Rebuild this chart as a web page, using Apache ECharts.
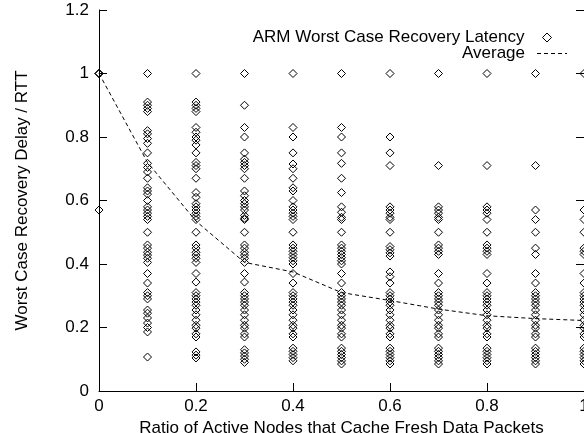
<!DOCTYPE html>
<html>
<head>
<meta charset="utf-8">
<script src="https://cdn.jsdelivr.net/npm/echarts@6/dist/echarts.min.js"></script>
<style>
  html, body { margin: 0; padding: 0; background: #fff; }
  #chart { width: 584px; height: 433px; }
</style>
</head>
<body>
<div id="chart"></div>
<script>
// x positions of the columns
const ratios = [0, 0.1, 0.2, 0.3, 0.4, 0.5, 0.6, 0.7, 0.8, 0.9, 1.0];

// worst case recovery latency per column
const col00 = [1, 1, 1, 0.57];
const col01 = [1, 0.91, 0.90, 0.89, 0.88, 0.82, 0.81, 0.795, 0.78, 0.75, 0.717, 0.704, 0.69, 0.67,
  0.64, 0.63, 0.62, 0.60, 0.58, 0.57, 0.56, 0.55, 0.54, 0.50, 0.46, 0.45, 0.437, 0.428, 0.418, 0.405,
  0.37, 0.34, 0.31, 0.30, 0.29, 0.255, 0.245, 0.23, 0.214, 0.20, 0.186, 0.107];
const col02 = [1, 0.91, 0.90, 0.89, 0.88, 0.83, 0.815, 0.80, 0.79, 0.775, 0.75, 0.72, 0.71, 0.70, 0.67,
  0.625, 0.61, 0.59, 0.58, 0.57, 0.56, 0.55, 0.54, 0.50, 0.46, 0.45, 0.437, 0.428, 0.418, 0.405,
  0.37, 0.343, 0.31, 0.30, 0.29, 0.28, 0.27, 0.255, 0.24, 0.223, 0.207, 0.198, 0.18, 0.17,
  0.123, 0.113, 0.104];
const col03 = [1, 0.90, 0.83, 0.80, 0.75, 0.73, 0.72, 0.71, 0.70, 0.67, 0.63, 0.615, 0.60, 0.59, 0.58,
  0.57, 0.553, 0.544, 0.54, 0.50, 0.46, 0.45, 0.437, 0.428, 0.418, 0.405, 0.37, 0.343, 0.31, 0.30,
  0.29, 0.28, 0.27, 0.255, 0.24, 0.223, 0.207, 0.198, 0.18, 0.17, 0.13, 0.12, 0.11, 0.10, 0.09];
const col04 = [1, 0.83, 0.80, 0.75, 0.715, 0.70, 0.67, 0.64, 0.63, 0.60, 0.58, 0.57, 0.56, 0.55, 0.54,
  0.50, 0.46, 0.45, 0.44, 0.43, 0.42, 0.41, 0.40, 0.37, 0.34, 0.31, 0.30, 0.29, 0.28, 0.27, 0.255,
  0.24, 0.223, 0.207, 0.198, 0.18, 0.17, 0.135, 0.125, 0.115, 0.105, 0.095];
const col05 = [1, 0.83, 0.80, 0.75, 0.717, 0.67, 0.625, 0.58, 0.563, 0.547, 0.54, 0.50, 0.46, 0.45,
  0.44, 0.43, 0.42, 0.41, 0.40, 0.37, 0.34, 0.31, 0.30, 0.29, 0.28, 0.27, 0.255, 0.24, 0.223, 0.207,
  0.198, 0.18, 0.17, 0.135, 0.125, 0.115, 0.105, 0.095, 0.085];
const col06 = [1, 0.80, 0.75, 0.71, 0.58, 0.57, 0.56, 0.547, 0.54, 0.50, 0.455, 0.445, 0.435, 0.425,
  0.375, 0.36, 0.34, 0.31, 0.30, 0.29, 0.28, 0.27, 0.255, 0.24, 0.223, 0.207, 0.198, 0.18, 0.17,
  0.135, 0.125, 0.115, 0.105, 0.095, 0.085];
const col07 = [1, 0.71, 0.58, 0.57, 0.56, 0.547, 0.54, 0.50, 0.46, 0.45, 0.44, 0.43, 0.37, 0.34,
  0.31, 0.30, 0.29, 0.28, 0.27, 0.255, 0.24, 0.223, 0.207, 0.198, 0.18, 0.17,
  0.135, 0.125, 0.115, 0.105, 0.095, 0.085];
const col08 = [1, 0.71, 0.58, 0.57, 0.56, 0.54, 0.50, 0.46, 0.45, 0.44, 0.43, 0.37, 0.34,
  0.31, 0.30, 0.29, 0.28, 0.27, 0.255, 0.24, 0.223, 0.207, 0.198, 0.18, 0.17,
  0.135, 0.125, 0.115, 0.105, 0.095, 0.085];
const col09 = [1, 0.71, 0.57, 0.54, 0.50, 0.45, 0.43, 0.37, 0.34,
  0.31, 0.30, 0.29, 0.28, 0.27, 0.255, 0.24, 0.223, 0.207, 0.198, 0.18, 0.17,
  0.135, 0.125, 0.115, 0.105, 0.095, 0.085];
const col10 = [1, 0.57, 0.54, 0.50, 0.45, 0.44, 0.43, 0.37, 0.34,
  0.31, 0.30, 0.29, 0.28, 0.27, 0.255, 0.24, 0.223, 0.207, 0.198, 0.18, 0.17,
  0.135, 0.125, 0.115, 0.105, 0.095, 0.085];

// average curve
const averageValues = [1, 0.72, 0.535, 0.405, 0.375, 0.31, 0.285, 0.258, 0.237, 0.228, 0.222];

const xTicks = [0, 0.2, 0.4, 0.6, 0.8, 1];
const yTicks = [0, 0.2, 0.4, 0.6, 0.8, 1, 1.2];

const columns = [col00, col01, col02, col03, col04, col05, col06, col07, col08, col09, col10];
const scatterData = [];
columns.forEach((col, i) => {
  col.forEach(v => scatterData.push([ratios[i], v]));
});
const avgData = ratios.map((r, i) => [r, averageValues[i]]);

const font = "'Liberation Sans', Arial, sans-serif";
const fs = 17;
// dashed legend sample for the average curve
const dashIcon = "path://M0,0h4v1h-4z M7,0h4v1h-4z M14,0h4v1h-4z M21,0h4v1h-4z M28,0h2v1h-2z";

const chart = echarts.init(document.getElementById("chart"), null, { renderer: "canvas" });

const option = {
  animation: false,
  backgroundColor: "#fff",
  textStyle: { fontFamily: font, color: "#000" },
  grid: { left: 99, right: 0, top: 10, bottom: 42, containLabel: false, outerBoundsMode: "none" },
  legend: [
    {
      data: [{ name: "ARM Worst Case Recovery Latency", icon: "diamond",
        itemStyle: { color: "rgba(255,255,255,0)", borderColor: "#000", borderWidth: 1 } }],
      right: 32, top: 29, align: "right", padding: 0,
      itemWidth: 9, itemHeight: 9,
      textStyle: { fontFamily: font, fontSize: fs, color: "#000", padding: [0, 13, 0, 0] },
    },
    {
      data: [{ name: "Average", icon: dashIcon, itemStyle: { color: "#000" } }],
      right: 17, top: 45, align: "right", padding: 0,
      itemWidth: 30, itemHeight: 1,
      textStyle: { fontFamily: font, fontSize: fs, color: "#000", padding: [0, 7, 0, 0] },
    },
  ],
  xAxis: [
    {
      type: "value", min: 0, max: 1, interval: 0.2,
      name: "Ratio of Active Nodes that Cache Fresh Data Packets",
      nameLocation: "middle", nameGap: 21,
      nameTextStyle: { fontFamily: font, fontSize: fs, color: "#000" },
      axisLine: { lineStyle: { color: "#000", width: 1 } },
      axisTick: { inside: true, length: 8, lineStyle: { color: "#000" } },
      axisLabel: { margin: 7, fontFamily: font, fontSize: fs, color: "#000",
        formatter: v => xTicks.includes(+v.toFixed(1)) ? String(+v.toFixed(1)) : "" },
      splitLine: { show: false },
    },
  ],
  yAxis: [
    {
      type: "value", min: 0, max: 1.2, interval: 0.2,
      name: "Worst Case Recovery Delay / RTT",
      nameLocation: "middle", nameGap: 68, nameRotate: 90,
      nameTextStyle: { fontFamily: font, fontSize: fs, color: "#000" },
      axisLine: { show: true, lineStyle: { color: "#000", width: 1 } },
      axisTick: { inside: true, length: 8, lineStyle: { color: "#000" } },
      axisLabel: { margin: 10, fontFamily: font, fontSize: fs, color: "#000",
        formatter: v => yTicks.includes(+v.toFixed(1)) ? String(+v.toFixed(1)) : "" },
      splitLine: { show: false },
    },
    {
      type: "value", min: 0, max: 1.2, interval: 0.2, position: "right",
      axisLine: { show: true, lineStyle: { color: "#000", width: 1 } },
      axisTick: { inside: true, length: 8, lineStyle: { color: "#000" } },
      axisLabel: { show: false },
      splitLine: { show: false },
    },
  ],
  series: [
    {
      name: "ARM Worst Case Recovery Latency",
      type: "scatter",
      symbol: "diamond",
      symbolSize: 8,
      clip: false,
      itemStyle: { color: "rgba(255,255,255,0)", borderColor: "#000", borderWidth: 1, opacity: 1 },
      data: scatterData,
      z: 3,
    },
    {
      name: "Average",
      type: "line",
      symbol: "none",
      showSymbol: false,
      lineStyle: { color: "#000", width: 1, type: [4, 3] },
      itemStyle: { color: "#000" },
      data: avgData,
      z: 2,
    },
  ],
};
chart.setOption(option);
</script>
</body>
</html>
